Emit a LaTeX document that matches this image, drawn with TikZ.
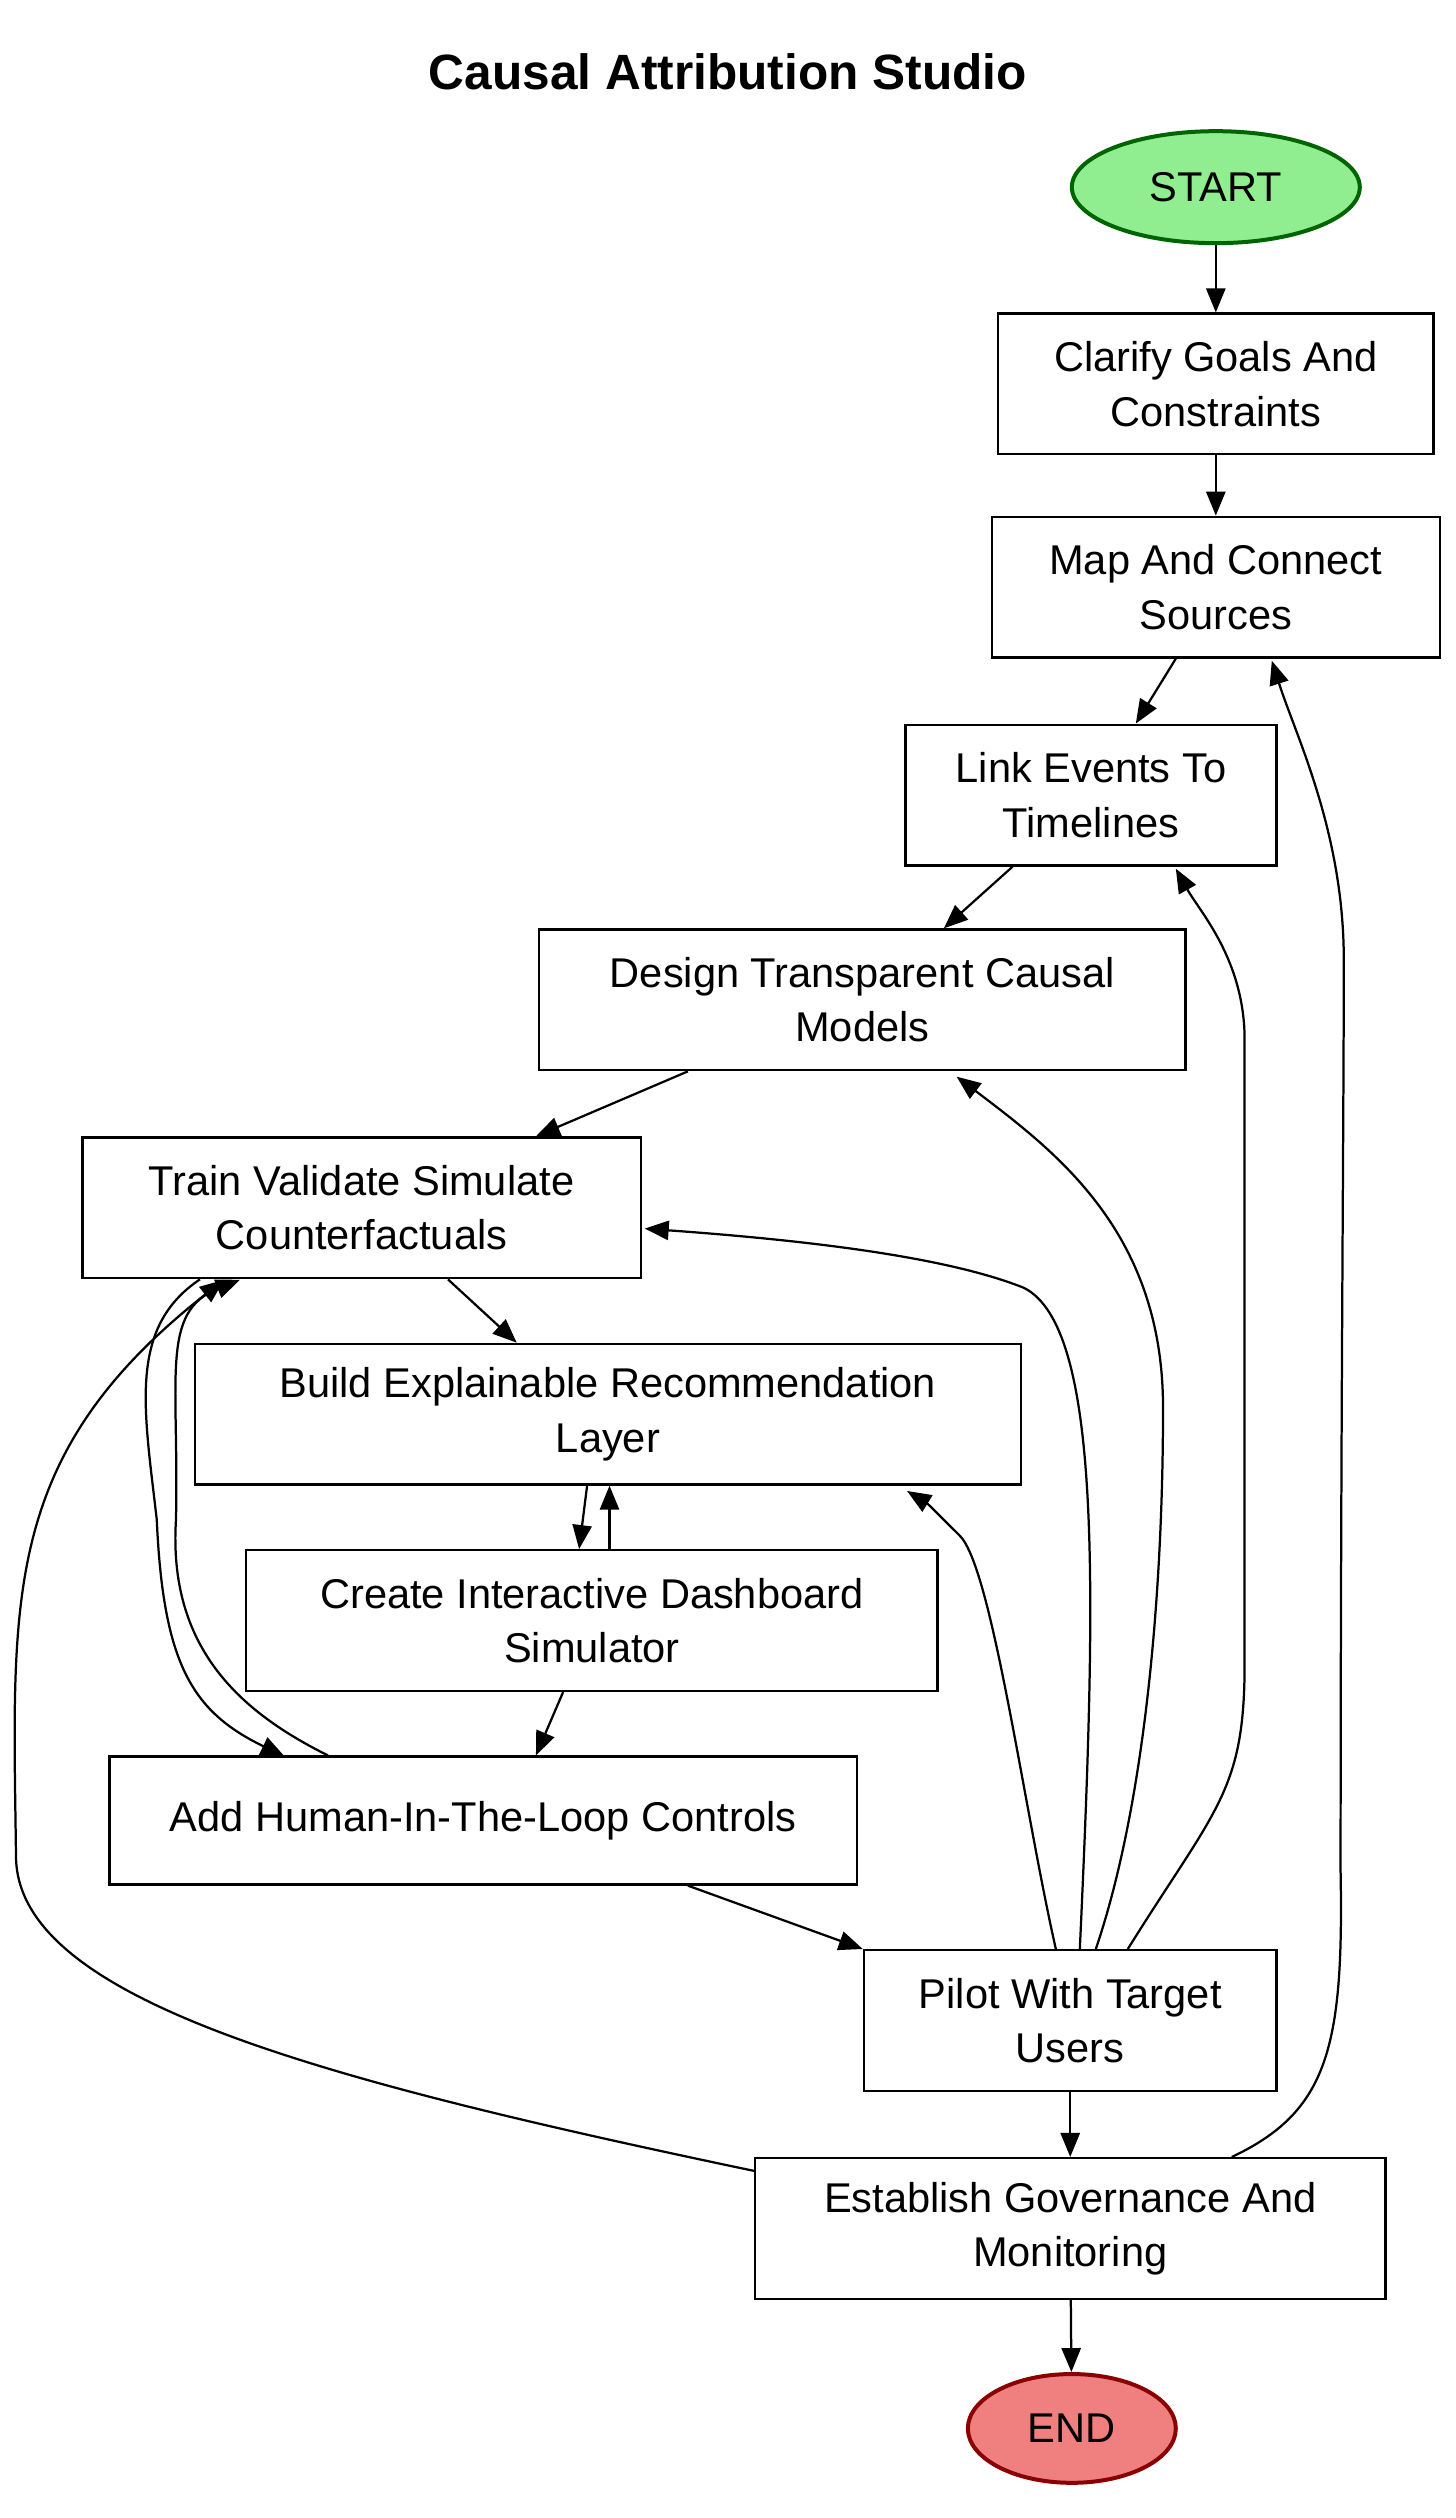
\documentclass[tikz,border=0pt]{standalone}
\usepackage{fontspec}
\setmainfont{Liberation Sans}
\usetikzlibrary{shapes.geometric,arrows.meta}
\definecolor{startfill}{RGB}{144,238,144}
\definecolor{startdraw}{RGB}{0,100,0}
\definecolor{endfill}{RGB}{240,128,128}
\definecolor{enddraw}{RGB}{139,0,0}
\begin{document}
\begin{tikzpicture}[x=1pt,y=-1pt,
  font=\fontsize{26}{34}\selectfont,
  box/.style={draw,line width=1.4pt,minimum height=88pt,align=center,inner sep=0pt},
  e/.style={-{Triangle[length=15pt,width=12pt]},line width=1.4pt}]
\useasboundingbox (0,0) rectangle (910,1574);
\node[font=\fontsize{31}{36}\selectfont\bfseries] (title) at (455,45) {Causal Attribution Studio};
\node[ellipse,draw=startdraw,fill=startfill,line width=2.5pt,minimum width=180pt,minimum height=70pt] (start) at (760,117) {START};
\node[box,minimum width=272pt] (clar) at (760,240) {Clarify Goals And\\Constraints};
\node[box,minimum width=280pt] (map) at (760,367) {Map And Connect\\Sources};
\node[box,minimum width=232pt] (link) at (682,497) {Link Events To\\Timelines};
\node[box,minimum width=404pt] (des) at (539,625) {Design Transparent Causal\\Models};
\node[box,minimum width=349pt] (train) at (226,755) {Train Validate Simulate\\Counterfactuals};
\node[box,minimum width=516pt] (build) at (380,884) {Build Explainable Recommendation\\Layer};
\node[box,minimum width=432pt] (create) at (370,1013) {Create Interactive Dashboard\\Simulator};
\node[box,minimum width=467pt,minimum height=80pt] (add) at (302,1138) {Add Human-In-The-Loop Controls};
\node[box,minimum width=258pt] (pilot) at (669,1263) {Pilot With Target\\Users};
\node[box,minimum width=394pt] (est) at (669,1393) {Establish Governance And\\Monitoring};
\node[ellipse,draw=enddraw,fill=endfill,line width=2.5pt,minimum width=130pt,minimum height=68pt] (end) at (670,1518) {END};

\draw[e] (start) -- (clar);
\draw[e] (clar) -- (map);
\draw[e] (map.south -| 735,0) -- (link.north -| 710,0);
\draw[e] (link.south -| 633,0) -- (des.north -| 590,0);
\draw[e] (des.south -| 430,0) -- (train.north -| 335,0);
\draw[e] (train.south -| 280,0) -- (build.north -| 323,0);
\draw[e] (build.south -| 367,0) -- (create.north -| 362,0);
\draw[e] (create.north -| 381,0) -- (build.south -| 381,0);
\draw[e] (create.south -| 352,0) -- (add.north -| 335,0);
\draw[e] (add.south -| 430,0) -- (pilot.north west);
\draw[e] (pilot) -- (est);
\draw[e] (est) -- (end);
% loops
\draw[e] (add.north -| 205,0) .. controls (150,1070) and (105,1030) .. (110,950) .. controls (112,860) and (100,820) .. (150,800);
\draw[e] (train.south -| 125,0) .. controls (80,830) and (90,880) .. (98,950) .. controls (102,1040) and (120,1070) .. (178,1098);
\draw[e] (est.west |- 0,1357) .. controls (200,1300) and (10,1250) .. (10,1160) .. controls (8,1000) and (0,910) .. (140,800);
\draw[e] (pilot.north -| 675,0) .. controls (685,1000) and (690,830) .. (640,805) .. controls (590,785) and (500,775) .. (403,768);
\draw[e] (pilot.north -| 660,0) .. controls (640,1130) and (620,980) .. (600,960) .. controls (590,950) and (580,940) .. (567,932);
\draw[e] (pilot.north -| 685,0) .. controls (715,1130) and (727,1000) .. (727,880) .. controls (727,770) and (660,720) .. (598,673);
\draw[e] (pilot.north -| 705,0) .. controls (760,1130) and (778,1120) .. (778,1040) .. controls (778,900) and (778,750) .. (778,650) .. controls (778,600) and (750,570) .. (735,543);
\draw[e] (est.north -| 770,0) .. controls (830,1320) and (840,1280) .. (838,1170) .. controls (838,900) and (840,700) .. (840,600) .. controls (840,520) and (810,460) .. (795,413);
\end{tikzpicture}
\end{document}
